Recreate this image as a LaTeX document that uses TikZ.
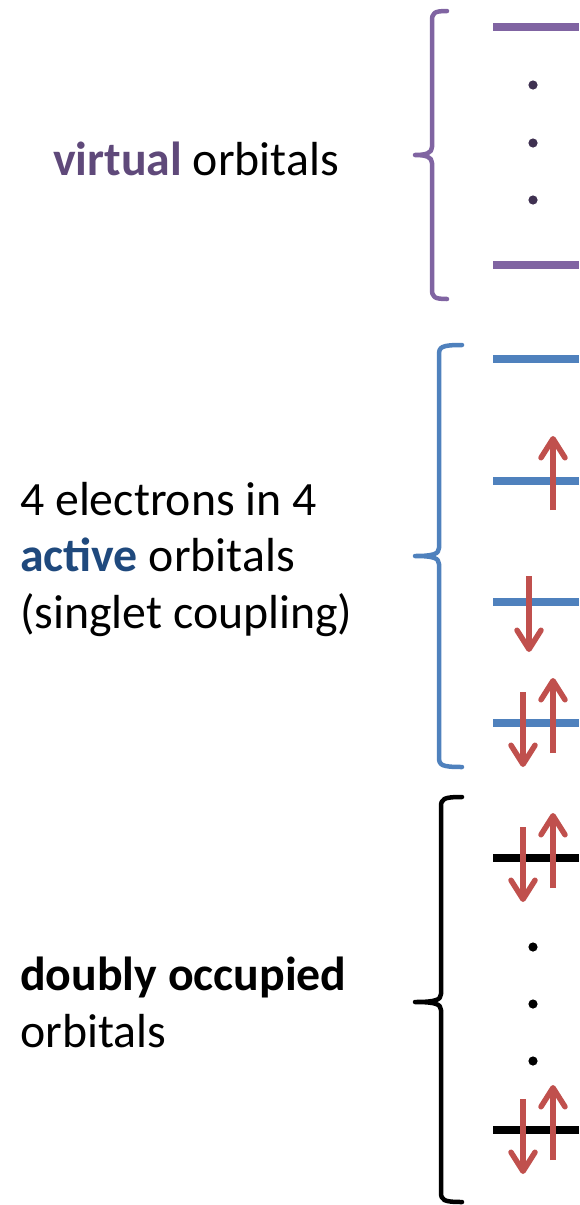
\documentclass[tikz,border=0pt]{standalone}
\usepackage{fontspec}
\setmainfont{Carlito}
\usetikzlibrary{arrows.meta}
\definecolor{virtcol}{HTML}{8064A2}
\definecolor{virttext}{HTML}{5F497A}
\definecolor{virtdot}{HTML}{3F3151}
\definecolor{actcol}{HTML}{4F81BD}
\definecolor{acttext}{HTML}{1F497D}
\definecolor{occcol}{HTML}{000000}
\definecolor{spincol}{HTML}{C0504D}

\begin{document}
\begin{tikzpicture}[
    x=1pt, y=-1pt,
    level/.style={line width=8pt},
    brc/.style={line width=4.5pt, line cap=round, line join=round},
    spin/.style={draw=spincol, line width=5.5pt,
                 -{Straight Barb[length=19pt, width=24pt, round]}},
    label/.style={anchor=base west, inner sep=0pt,
                  font=\fontsize{47.8}{57}\selectfont},
  ]
  \useasboundingbox (0,0) rectangle (579,1205);
  \foreach \clr/\ytop/\ybot/\xs/\xe/\ymid in {virtcol/11/299/432/447/155,
      actcol/345/767/439/462/556, occcol/797/1202/441/462/1002} {
    \draw[brc, draw=\clr] (\xe,\ytop) .. controls (\xs+2,\ytop) and (\xs,\ytop+2) .. (\xs,\ytop+10)
      -- (\xs,\ymid-8) .. controls (\xs,\ymid-2) and (\xs-6,\ymid) .. (415,\ymid)
      .. controls (\xs-6,\ymid) and (\xs,\ymid+2) .. (\xs,\ymid+8)
      -- (\xs,\ybot-10) .. controls (\xs,\ybot-2) and (\xs+2,\ybot) .. (\xe,\ybot);
  }
  \foreach \y in {27, 265} { \draw[level, virtcol] (493,\y) -- (579,\y); }
  \foreach \y in {359, 481, 602, 723} { \draw[level, actcol] (493,\y) -- (579,\y); }
  \foreach \y in {858, 1130} { \draw[level, occcol] (493,\y) -- (579,\y); }
  \foreach \y in {85, 143, 200} { \fill[virtdot] (533,\y) circle (4.6pt); }
  \foreach \y in {947, 1004, 1061} { \fill[black] (533,\y) circle (4.6pt); }
  \draw[spin] (553,510) -- (553,436);
  \draw[spin] (529,576) -- (529,652);
  \foreach \y in {723, 858, 1130} {
    \draw[spin] (523,\y-31) -- (523,\y+44);
    \draw[spin] (553,\y+30) -- (553,\y-45);
  }
  \node[label] (virtlabel) at (53,175) {\textbf{\color{virttext}virtual} orbitals};
  \node[label] (actlabel1) at (20,515) {4 electrons in 4};
  \node[label] (actlabel2) at (20,571) {\textbf{\color{acttext}active} orbitals};
  \node[label] (actlabel3) at (20,628) {(singlet coupling)};
  \node[label] (occlabel1) at (20,990) {\textbf{doubly occupied}};
  \node[label] (occlabel2) at (20,1047) {orbitals};
\end{tikzpicture}
\end{document}
